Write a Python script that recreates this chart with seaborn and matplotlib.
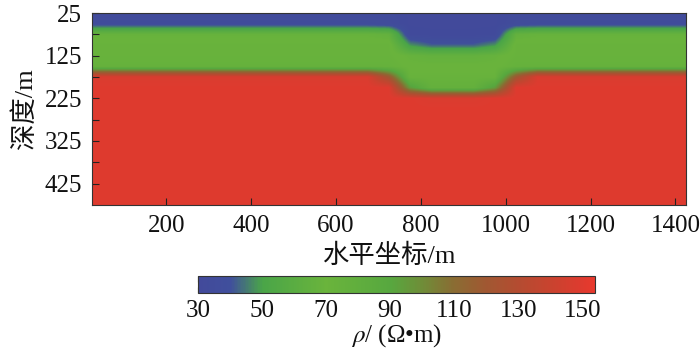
import numpy as np
import matplotlib
matplotlib.use("Agg")
import matplotlib.pyplot as plt
from matplotlib.colors import LinearSegmentedColormap
import seaborn as sns

# model grid nodes (m)
x_nodes = np.arange(25, 1426, 50)      # 29 columns
depth_nodes = np.arange(25, 476, 25)   # 19 rows

# resistivity profiles (ohm-m) read at each depth node
prof_background = [33, 36, 68, 72, 72, 74, 148, 150, 150, 150, 150, 150, 150, 150, 150, 150, 150, 150, 150]
prof_shoulder   = [33, 35, 66, 72, 72, 74, 120, 150, 150, 150, 150, 150, 150, 150, 150, 150, 150, 150, 150]
prof_edge       = [30, 30, 32, 48, 68, 70, 72, 95, 150, 150, 150, 150, 150, 150, 150, 150, 150, 150, 150]
prof_center     = [30, 30, 31, 42, 66, 70, 72, 76, 148, 150, 150, 150, 150, 150, 150, 150, 150, 150, 150]

# which profile each x node uses
column_profile = (["background"] * 14 + ["shoulder", "edge"] + ["center"] * 3
                  + ["edge", "shoulder"] + ["background"] * 8)

profiles = {"background": prof_background, "shoulder": prof_shoulder,
            "edge": prof_edge, "center": prof_center}
rho = np.array([profiles[p] for p in column_profile]).T  # depth x horizontal

cbar_ticks = [30, 50, 70, 90, 110, 130, 150]
vmin, vmax = 30, 154

cmap_stops = [(30, "#424a9b"), (40, "#404f9c"), (50, "#4aa548"), (70, "#6ab43c"),
              (90, "#57a83f"), (100, "#6f8d38"), (110, "#8a6c33"), (120, "#a05832"),
              (130, "#b44c31"), (140, "#c8432f"), (150, "#de3b2f"), (154, "#e8392d")]
cmap = LinearSegmentedColormap.from_list(
    "rho", [((v - vmin) / (vmax - vmin), c) for v, c in cmap_stops])

sns.set_theme(style="white")
plt.rcParams['font.family'] = ['Liberation Serif', 'Noto Sans CJK SC', 'DejaVu Sans']
plt.rcParams['mathtext.fontset'] = 'stix'

fig = plt.figure(figsize=(7.0, 3.56), dpi=100)
ax = fig.add_axes([92 / 700, 1 - 205 / 356, 594 / 700, 192 / 356])

dx, dz = 50, 25
im = ax.imshow(rho, cmap=cmap, vmin=vmin, vmax=vmax, aspect='auto',
               interpolation='bilinear',
               extent=[x_nodes[0] - dx / 2, x_nodes[-1] + dx / 2,
                       depth_nodes[-1] + dz / 2, depth_nodes[0] - dz / 2])
ax.set_xlim(25, 1425)
ax.set_ylim(475, 25)
ax.set_xticks([200, 400, 600, 800, 1000, 1200, 1400])
ax.set_yticks([25, 125, 225, 325, 425])
ax.set_yticks([75, 175, 275, 375], minor=True)
ax.tick_params(axis='both', which='both', direction='in', length=5, width=0.8,
               color='#222222', labelsize=18, labelcolor='#111111')
ax.tick_params(axis='y', which='both', left=True, pad=7)
ax.tick_params(axis='x', which='both', bottom=True, pad=7)
for s in ax.spines.values():
    s.set_color('#333333')
    s.set_linewidth(0.8)
ax.set_xlabel("水平坐标/m", fontsize=19, labelpad=5, color='#111111')
ax.set_ylabel("深度/m", fontsize=19, labelpad=6, color='#111111')

cax = fig.add_axes([198 / 700, 1 - 293 / 356, 397 / 700, 17 / 356])
cb = fig.colorbar(im, cax=cax, orientation='horizontal', ticks=cbar_ticks)
cb.outline.set_edgecolor('#333333')
cb.outline.set_linewidth(0.8)
cax.tick_params(axis='x', which='both', direction='in', length=4, width=0.8,
                color='#222222', top=True, bottom=True, labelsize=18,
                labelcolor='#111111', pad=5)
cax.minorticks_off()
cb.set_label(r"$\rho$/ (Ω•m)", fontsize=18, labelpad=0, color='#111111')

fig.savefig("out.png", dpi=100)
